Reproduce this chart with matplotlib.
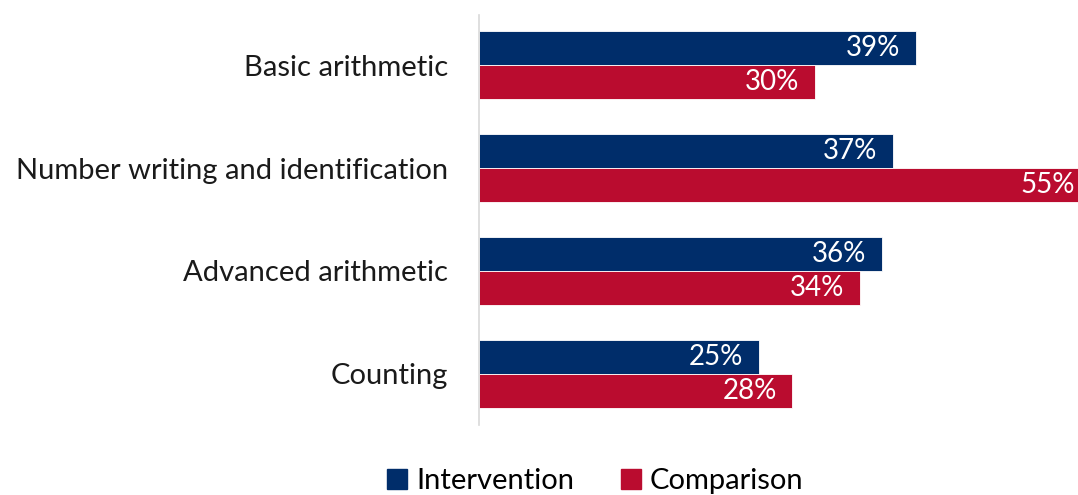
import numpy as np
import matplotlib.pyplot as plt
from matplotlib.patches import Patch

plt.rcParams['font.family'] = ['Lato', 'DejaVu Sans']

categories = ["Basic arithmetic", "Number writing and identification",
              "Advanced arithmetic", "Counting"]
intervention = [39, 37, 36, 25]
comparison = [30, 55, 34, 28]

BLUE = "#002D6A"
RED = "#BA0C2F"

fig = plt.figure(figsize=(10.78, 4.95), dpi=100)
ax = fig.add_axes([0.4443, 0.1414, 0.5557, 0.8283])

y = np.arange(len(categories))
h = 0.33
ax.barh(y - h / 2, intervention, height=h, color=BLUE, edgecolor="white", linewidth=0.6)
ax.barh(y + h / 2, comparison, height=h, color=RED, edgecolor="white", linewidth=0.6)

# value labels sit inside the bar end; the long bar runs off the right edge
xmax = 53.5
for yvals, vals in [(y - h / 2, intervention), (y + h / 2, comparison)]:
    for yi, v in zip(yvals, vals):
        xpos = xmax - 0.3 if v > xmax else v - 1.4
        ax.text(xpos, yi, f"{v}%", color="white", fontsize=20,
                ha="right", va="center")

ax.set_xlim(0, xmax)
ax.set_ylim(3.5, -0.49)
ax.set_yticks(y)
ax.set_yticklabels(categories, fontsize=21, color="#1a1a1a")
ax.tick_params(axis="y", length=0, pad=22)
ax.set_xticks([])
for side in ["top", "right", "bottom"]:
    ax.spines[side].set_visible(False)
ax.spines["left"].set_color("#d9d9d9")
ax.spines["left"].set_linewidth(1.2)

handles = [Patch(color=BLUE, label="Intervention"),
           Patch(color=RED, label="Comparison")]
fig.legend(handles=handles, loc="center", bbox_to_anchor=(0.552, 0.028),
           ncol=2, frameon=False, fontsize=21, handlelength=0.7,
           handleheight=0.7, handletextpad=0.3, columnspacing=1.6)

fig.savefig("out.png", dpi=100)
